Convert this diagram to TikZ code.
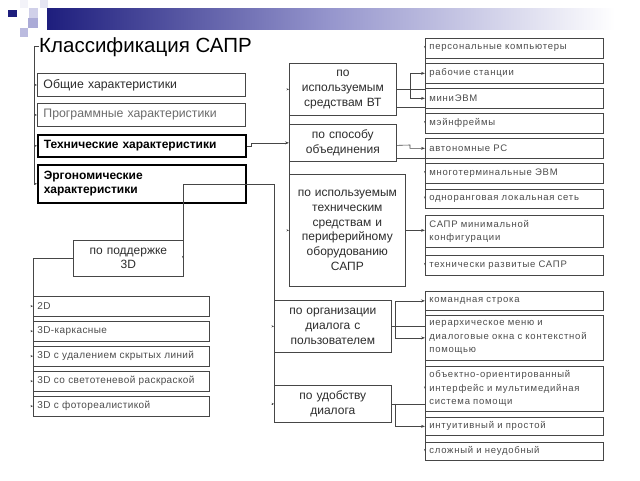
\documentclass[tikz,border=0pt]{standalone}
\usepackage{fontspec}
\setmainfont{Liberation Sans}
\newfontfamily\melkij[LetterSpace=8]{Liberation Sans}
\newfontfamily\spisokshrift[LetterSpace=4]{Liberation Sans}
\usetikzlibrary{arrows.meta}
\definecolor{tekst}{RGB}{45,45,45}
\definecolor{ramka}{RGB}{70,70,70}
\definecolor{sinij}{RGB}{30,30,125}
\definecolor{lavanda}{RGB}{150,150,205}

\begin{document}
\begin{tikzpicture}[x=1pt,y=-1pt]
\tikzstyle{levo}=[draw=ramka, line width=0.9pt, fill=white, anchor=north west, inner xsep=6pt, inner ysep=0pt, text width=196pt, align=left, text=tekst, font=\fontsize{12.3}{14}\selectfont]
\tikzstyle{zhirnyj}=[draw=black, line width=1.6pt, text=black, font=\fontsize{12}{14.5}\selectfont\bfseries]
\tikzstyle{sred}=[draw=ramka, line width=0.7pt, fill=white, anchor=north west, inner xsep=2pt, inner ysep=0pt, align=center, text=tekst, font=\fontsize{12}{14.8}\selectfont]
\tikzstyle{pravo}=[draw=ramka, line width=0.7pt, fill=white, anchor=north west, inner xsep=4pt, inner ysep=0pt, text width=170pt, align=left, text=tekst!85, font=\fontsize{9.5}{13.5}\melkij]
\tikzstyle{spisok}=[draw=ramka, line width=0.7pt, fill=white, anchor=north west, inner xsep=4pt, inner ysep=0pt, text width=168pt, align=left, minimum height=19.5pt, text=tekst!85, font=\fontsize{10}{12}\spisokshrift]
\tikzstyle{strelka}=[ramka, line width=0.6pt, -{Stealth[length=4pt,width=3pt]}]
\tikzstyle{liniya}=[ramka, line width=0.6pt]
\tikzstyle{metka}=[ramka, line width=0.5pt, -{Stealth[length=2.5pt,width=2pt]}]

\useasboundingbox (0,0) rectangle (640,480);

% шапка слайда
\shade[left color=sinij, right color=white, middle color=lavanda] (47,8) rectangle (615,29);
\fill[sinij] (8,10) rectangle (17,17);
\fill[lavanda!45] (29,8) rectangle (38,18);
\fill[lavanda!80] (28,18) rectangle (38,28);
\fill[lavanda!65] (20,28) rectangle (28,37);
\fill[lavanda!25] (40,0) rectangle (48,8);
\fill[lavanda!12] (20,0) rectangle (28,8);

\node[anchor=base west, inner sep=0pt, font=\fontsize{20.5}{22}\selectfont, text=black] (zag) at (39,52) {Классификация САПР};

% левая колонка
\node[levo, minimum height=23pt] (obsh) at (37,73) {Общие характеристики};
\node[levo, minimum height=23pt, text=tekst!70] (prog) at (37,103) {Программные характеристики};
\node[levo, zhirnyj, minimum height=22pt] (teh) at (37,134) {Технические характеристики};
\node[levo, zhirnyj, minimum height=38pt] (ergo) at (37,164) {Эргономические\\характеристики};

\draw[liniya] (zag.west) -| ([xshift=-3pt]ergo.west);
\foreach \b in {obsh,prog,teh,ergo}
  \draw[metka] ([xshift=-3pt]\b.west) -- (\b.west);

% технические
\node[sred, text width=103pt, minimum height=52pt] (vt) at (289,63) {по\\используемым\\средствам ВТ};
\node[sred, text width=103pt, minimum height=37pt] (sposob) at (289,124) {по способу\\объединения};
\node[sred, text width=112pt, minimum height=112pt] (tsr) at (289,174) {по используемым\\техническим\\средствам и\\периферийному\\оборудованию\\САПР};

\draw[strelka] (teh.east) -- ++(5,0) |- (sposob.west);
\draw[liniya] (vt.west) -- (tsr.west);
\draw[metka] ([xshift=-2pt]vt.west) -- (vt.west);
\draw[metka] ([xshift=-2pt]tsr.west) -- (tsr.west);

\node[pravo, minimum height=20pt] (pk) at (425,38) {персональные компьютеры};
\node[pravo, minimum height=20pt] (rab) at (425,63) {рабочие станции};
\node[pravo, minimum height=20pt] (mini) at (425,88) {миниЭВМ};
\node[pravo, minimum height=20pt] (mein) at (425,113) {мэйнфреймы};
\node[pravo, minimum height=20pt] (avt) at (425,138) {автономные РС};
\node[pravo, minimum height=20pt] (mnogo) at (425,163) {многотерминальные ЭВМ};
\node[pravo, minimum height=19pt] (odnor) at (425,189) {одноранговая локальная сеть};
\node[pravo, minimum height=32pt] (sapr) at (425,215) {САПР минимальной\\конфигурации};
\node[pravo, minimum height=20pt] (razv) at (425,255) {технически развитые САПР};

\coordinate (j1) at (410,89);
\draw[liniya] (vt.east) -- (vt.east -| rab.west);
\draw[strelka] (j1) |- (rab.west);
\draw[strelka] (j1) |- (mini.west);
\draw[liniya] ([yshift=-18pt]vt.east) -- ([yshift=-18pt]vt.east -| mein.west);
\draw[liniya] (pk.west) -- (mein.west);
\draw[metka] ([yshift=3pt]pk.west) -- (pk.west);
\draw[metka] ([yshift=3pt]mein.west) -- (mein.west);

\coordinate (j2) at (410,145);
\draw[strelka] ([yshift=-2.5pt]sposob.east) -- (j2) |- (avt.west);
\draw[liniya] ([yshift=-15.5pt]sposob.east) -- ([yshift=-15.5pt]sposob.east -| mnogo.west);
\draw[liniya] (avt.west) -- (odnor.west);
\draw[metka] ([yshift=3pt]mnogo.west) -- (mnogo.west);
\draw[metka] ([yshift=3pt]odnor.west) -- (odnor.west);

\draw[strelka, line width=1.3pt] (tsr.east) -- (tsr.east -| sapr.west);
\draw[liniya] (sapr.west) -- (razv.west);
\draw[metka] ([yshift=3pt]razv.west) -- (razv.west);

% эргономические
\node[sred, text width=106pt, minimum height=36pt] (sup3d) at (73,240) {по поддержке\\3D};
\node[sred, text width=113pt, minimum height=52pt] (dlg) at (274,300) {по организации\\диалога с\\пользователем};
\node[sred, text width=113pt, minimum height=37pt] (udob) at (274,385) {по удобству\\диалога};

\coordinate (e1) at (183,184);
\coordinate (e2) at (274,184);
\draw[liniya] (e1) -- (e2) -- ([yshift=4pt]udob.south west);
\draw[metka] (e1) -- (e1 |- sup3d.east);
\draw[metka] ([xshift=-2pt]dlg.west) -- (dlg.west);
\draw[metka] ([xshift=-2pt]udob.west) -- (udob.west);

\node[spisok] (d2) at (33,296) {2D};
\node[spisok] (karkas) at (33,321) {3D-каркасные};
\node[spisok] (skryt) at (33,346) {3D с удалением скрытых линий};
\node[spisok] (svet) at (33,371) {3D со светотеневой раскраской};
\node[spisok] (foto) at (33,396) {3D с фотореалистикой};

\draw[liniya] (sup3d.west) -| ([yshift=3pt]foto.south west);
\foreach \b in {d2,karkas,skryt,svet,foto}
  \draw[metka] ([xshift=-2pt]\b.west) -- (\b.west);

\node[pravo, minimum height=19pt] (kom) at (425,291) {командная строка};
\node[pravo, minimum height=45pt] (ier) at (425,315) {иерархическое меню и\\диалоговые окна с контекстной\\помощью};
\node[pravo, minimum height=45pt] (obj) at (425,366) {объектно-ориентированный\\интерфейс и мультимедийная\\система помощи};
\node[pravo, minimum height=18pt] (intu) at (425,417) {интуитивный и простой};
\node[pravo, minimum height=18pt] (slozh) at (425,442) {сложный и неудобный};

\coordinate (j3) at (395,326);
\draw[liniya] (dlg.east) -- (dlg.east -| ier.west);
\draw[strelka] (j3) |- (kom.west);
\draw[strelka] (j3) |- (ier.west);
\coordinate (j4) at (395,403.5);
\draw[liniya] (udob.east) -- (udob.east -| obj.west);
\draw[strelka] (j4) |- (intu.west);
\draw[liniya] (kom.west) -- (slozh.west);
\draw[metka] ([yshift=3pt]obj.west) -- (obj.west);
\draw[metka] ([yshift=3pt]slozh.west) -- (slozh.west);
\end{tikzpicture}
\end{document}
